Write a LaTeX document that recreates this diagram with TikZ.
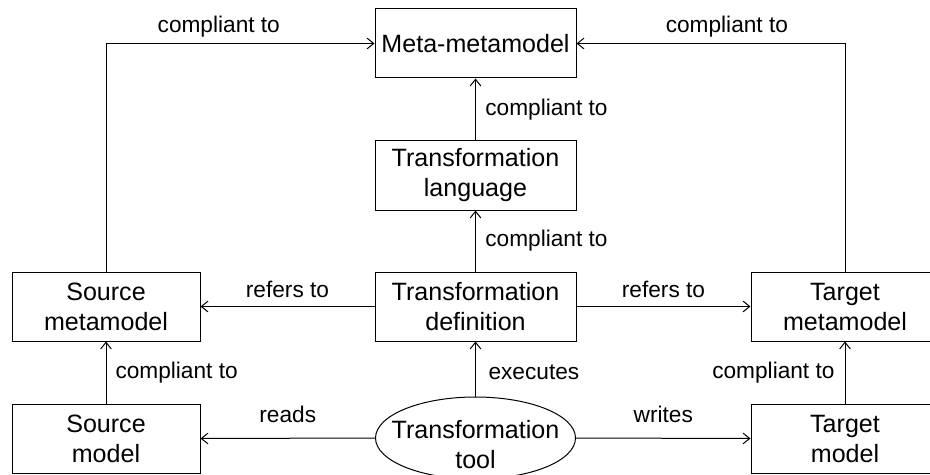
\documentclass[tikz,border=0pt]{standalone}
\usepackage{fontspec}
\setmainfont{Liberation Sans}
\usepackage{tikz}
\usetikzlibrary{shapes.geometric}
\usetikzlibrary{arrows.meta}
\tikzset{>={Straight Barb[length=5pt,width=8pt]}}

\begin{document}
\begin{tikzpicture}[x=0.75pt, y=-0.75pt, line width=0.75pt]
\tikzset{box/.style={draw, rectangle, inner sep=0pt, minimum width=150.75pt, minimum height=51.75pt, align=center, font=\fontsize{18.8}{22.5}\selectfont}}
\tikzset{sidebox/.style={box, minimum width=141pt}}
\tikzset{toolshape/.style={draw, ellipse, inner sep=0pt, minimum width=150pt, minimum height=61.5pt}}
\tikzset{lbl/.style={inner sep=0pt, font=\fontsize{17}{20}\selectfont}}
    \useasboundingbox (0,0) rectangle (930,474);

    \node[box] (Meta) at (475.5,43.5) {Meta-metamodel};
    \node[box] (Lang) at (475.5,175.5) {Transformation\\language};
    \node[box] (Def) at (475.5,306.5) {Transformation\\definition};

    \node[sidebox] (SrcMM) at (106,306.5) {Source\\metamodel};
    \node[sidebox] (TgtMM) at (845,306.5) {Target\\metamodel};

    \node[sidebox] (SrcM) at (106,438.5) {Source\\model};
    \node[sidebox] (TgtM) at (845,438.5) {Target\\model};
    \node[toolshape, label={[align=center, yshift=-5pt, font=\fontsize{18.8}{22.5}\selectfont]center:{Transformation\\tool}}] (Tool) at (475.5,438) {};

% % % % % % % % % % % % % % % % % % %
    \draw[->] (SrcMM.north) |- node[lbl, pos=0.71, above=4.5pt] {compliant to} (Meta.west);
    \draw[->] (TgtMM.north) |- node[lbl, pos=0.72, above=4.5pt] {compliant to} (Meta.east);
    \draw[->] (Lang.north) -- node[lbl, right=7pt] {compliant to} (Meta.south);
    \draw[->] (Def.north) -- node[lbl, right=7pt] {compliant to} (Lang.south);

    \draw[->] (Def.west) -- node[lbl, above=6pt] {refers to} (SrcMM.east);
    \draw[->] (Def.east) -- node[lbl, above=6pt] {refers to} (TgtMM.west);

    \draw[->] (SrcM.north) -- node[lbl, right=6.75pt] {compliant to} (SrcMM.south);
    \draw[->] (TgtM.north) -- node[lbl, left=7.5pt] {compliant to} (TgtMM.south);
    \draw[->] (Tool.north) -- node[lbl, pos=0.44, right=9.4pt] {executes} (Def.south);

    \draw[->] (Tool.west) -- node[lbl, above=11pt] {reads} (SrcM.east);
    \draw[->] (Tool.east) -- node[lbl, above=11pt] {writes} (TgtM.west);
\end{tikzpicture}
\end{document}
